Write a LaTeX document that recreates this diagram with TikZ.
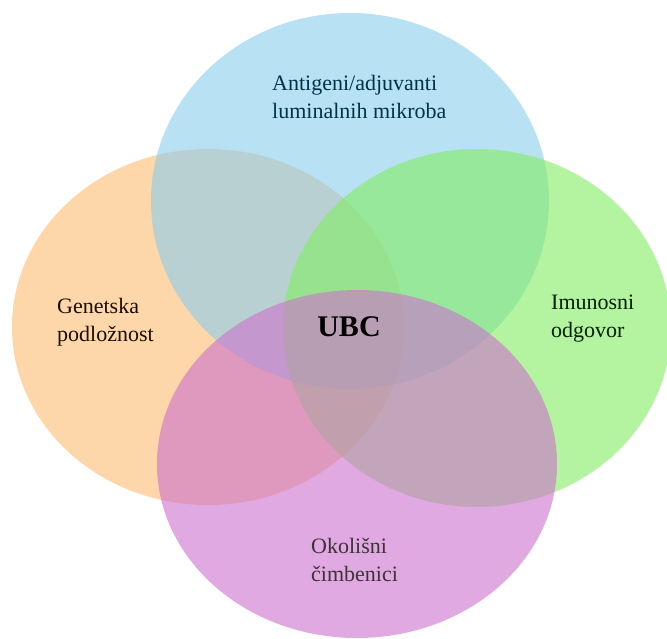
\documentclass[tikz,border=0pt]{standalone}
\usepackage{fontspec}
\setmainfont{Liberation Serif}
\usetikzlibrary{shapes.geometric}

\definecolor{antiblue}{RGB}{138,205,238}
\definecolor{genorange}{RGB}{252,188,113}
\definecolor{imungreen}{RGB}{130,238,97}
\definecolor{okomagenta}{RGB}{205,113,205}

\begin{document}
\begin{tikzpicture}[x=1pt, y=-1pt]
    \tikzstyle{blob}=[ellipse, draw=none, fill opacity=0.6, inner sep=0pt]
    \tikzstyle{label}=[align=left, anchor=west, inner sep=0pt, font=\fontsize{22}{28}\selectfont]

      \fill[white] (0,0) rectangle (667,639);
      \useasboundingbox (0,0) rectangle (667,639);

      % the four sets
      \node[blob, fill=genorange, minimum width=392pt, minimum height=356pt] (genetics) at (208,327) {};
      \node[blob, fill=antiblue, minimum width=398pt, minimum height=376pt] (antigens) at (350,201) {};
      \node[blob, fill=imungreen, minimum width=388pt, minimum height=358pt] (immune) at (477,328) {};
      \node[blob, fill=okomagenta, minimum width=400pt, minimum height=348pt] (environment) at (357,464) {};

      % labels
      \node[label, text=black!90!blue!80!cyan] (antigenstext) at (272,97) {Antigeni/adjuvanti\\luminalnih mikroba};
      \node[label, text=black!90!orange] (geneticstext) at (57,322) {Genetska\\podložnost};
      \node[label, text=black!88!green] (immunetext) at (551,319) {Imunosni\\odgovor};
      \node[label, text=black!88!magenta] (environmenttext) at (311,560) {Okolišni\\čimbenici};
      \node[inner sep=0pt, font=\fontsize{30}{34}\bfseries] (ubc) at (349,327) {UBC};
    \end{tikzpicture}
\end{document}
